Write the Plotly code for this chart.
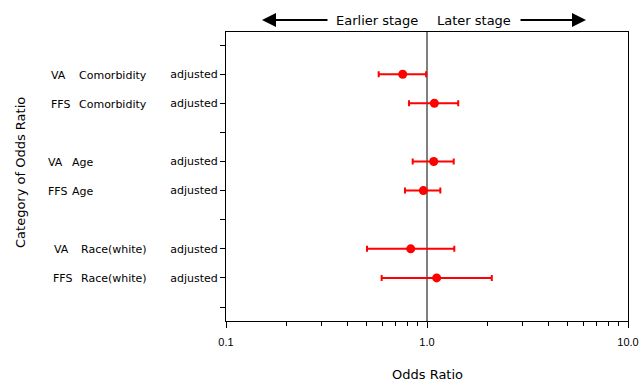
import plotly.graph_objects as go

# Data
groups = ["VA", "FFS", "VA", "FFS", "VA", "FFS"]
variables = ["Comorbidity", "Comorbidity", "Age", "Age", "Race(white)", "Race(white)"]
positions = [2, 3, 5, 6, 8, 9]
odds_ratio = [0.757, 1.088, 1.08, 0.959, 0.830, 1.117]
lower_ci = [0.575, 0.814, 0.849, 0.777, 0.503, 0.595]
upper_ci = [0.99, 1.43, 1.358, 1.165, 1.367, 2.10]
tick_positions = list(range(1, 11))
tick_text = ["", "adjusted", "adjusted", "", "adjusted", "adjusted", "", "adjusted", "adjusted", ""]
x_tickvals = [0.1, 1.0, 10.0]
x_ticktext = ["0.1", "1.0", "10.0"]
x_minor = [0.2, 0.3, 0.4, 0.5, 0.6, 0.7, 0.8, 0.9, 2, 3, 4, 5, 6, 7, 8, 9]

# label x-pixel positions (left edge) for the group / variable text
group_px = [49, 49, 46, 46, 52, 51]
var_px = [77, 77, 70, 70, 79, 79]

FONT = "DejaVu Sans, Verdana, sans-serif"
NUMFONT = "Liberation Sans, Arial, sans-serif"
RED = "#ff0000"
L, R, T, B = 226, 11, 32, 60
W, H = 639, 381
PW = W - L - R
PH = H - T - B

def px_to_paper_x(px):
    return (px - L) / PW

def py_to_paper_y(py):
    return (H - B - py) / PH

fig = go.Figure()

# reference line at OR = 1
fig.add_trace(go.Scatter(x=[1, 1], y=[0.5, 10.6], mode="lines",
                         line=dict(color="black", width=1), hoverinfo="skip",
                         showlegend=False))

err_plus = [u - o for u, o in zip(upper_ci, odds_ratio)]
err_minus = [o - l for o, l in zip(odds_ratio, lower_ci)]
fig.add_trace(go.Scatter(
    x=odds_ratio, y=positions, mode="markers",
    marker=dict(color=RED, size=9),
    error_x=dict(type="data", symmetric=False, array=err_plus, arrayminus=err_minus,
                 color=RED, thickness=2, width=3),
    showlegend=False))

annotations = []
for g, v, p, gx, vx in zip(groups, variables, positions, group_px, var_px):
    annotations.append(dict(text=g, xref="paper", yref="y", x=0, y=p,
                            xanchor="left", yanchor="middle", xshift=gx - L, yshift=-1,
                            showarrow=False, font=dict(size=11, color="black", family=FONT)))
    annotations.append(dict(text=v, xref="paper", yref="y", x=0, y=p,
                            xanchor="left", yanchor="middle", xshift=vx - L, yshift=-1,
                            showarrow=False, font=dict(size=11, color="black", family=FONT)))

ytop = py_to_paper_y(20)
annotations += [
    dict(text="Earlier stage", xref="paper", yref="paper", x=px_to_paper_x(420), y=ytop,
         xanchor="right", yanchor="middle", showarrow=False,
         font=dict(size=13, color="black", family=FONT)),
    dict(text="Later stage", xref="paper", yref="paper", x=px_to_paper_x(435), y=ytop,
         xanchor="left", yanchor="middle", showarrow=False,
         font=dict(size=13, color="black", family=FONT)),
    dict(text="", xref="paper", yref="paper", x=px_to_paper_x(262), y=ytop,
         ax=67, ay=0, showarrow=True, arrowhead=2, arrowsize=1.4, arrowwidth=2,
         arrowcolor="black"),
    dict(text="", xref="paper", yref="paper", x=px_to_paper_x(586), y=ytop,
         ax=-67, ay=0, showarrow=True, arrowhead=2, arrowsize=1.4, arrowwidth=2,
         arrowcolor="black"),
    # axis titles
    dict(text="Odds Ratio", xref="paper", yref="paper", x=px_to_paper_x(427),
         y=py_to_paper_y(374), xanchor="center", yanchor="middle", showarrow=False,
         font=dict(size=13, color="black", family=FONT)),
    dict(text="Category of Odds Ratio", xref="paper", yref="paper", x=px_to_paper_x(20),
         y=py_to_paper_y(173), xanchor="center", yanchor="middle", showarrow=False,
         textangle=-90, font=dict(size=13, color="black", family=FONT)),
]

fig.update_layout(
    width=W, height=H,
    margin=dict(l=L, r=R, t=T, b=B),
    plot_bgcolor="white", paper_bgcolor="white",
    font=dict(family=FONT, size=11, color="black"),
    annotations=annotations,
    xaxis=dict(type="log", range=[-1, 1], tickvals=x_tickvals, ticktext=x_ticktext,
               ticks="outside", ticklen=6, tickcolor="black", showgrid=False,
               showline=True, linecolor="black", linewidth=1, mirror=True,
               zeroline=False, automargin=False, ticklabelstandoff=5,
               tickfont=dict(size=11, family=NUMFONT),
               minor=dict(tickvals=x_minor, ticks="outside", ticklen=4, tickcolor="black",
                          showgrid=False)),
    yaxis=dict(range=[10.48, 0.55], tickvals=tick_positions, ticktext=tick_text,
               ticks="outside", ticklen=5, tickcolor="black", showgrid=False,
               showline=True, linecolor="black", linewidth=1, mirror=True,
               zeroline=False, automargin=False,
               tickfont=dict(size=11, family=FONT)),
)

fig.write_html("out.html", config={"displayModeBar": False},
               post_script="document.body.style.margin='0';document.body.style.overflow='hidden';")
